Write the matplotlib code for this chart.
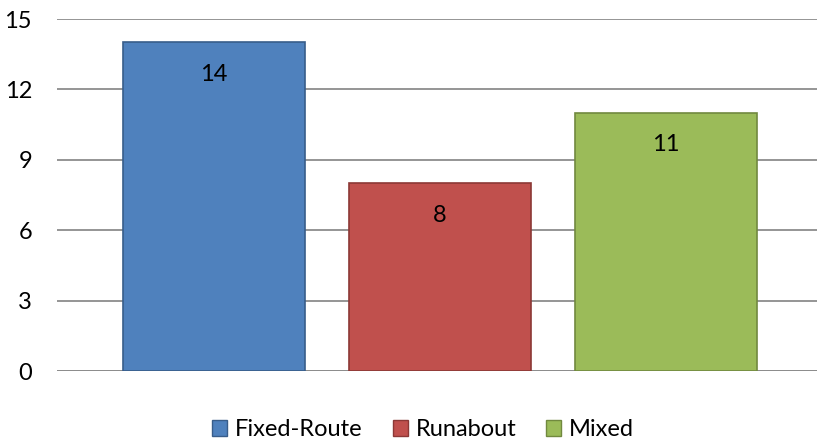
import matplotlib
matplotlib.use("Agg")
import matplotlib.pyplot as plt
from matplotlib.patches import Patch

plt.rcParams['font.family'] = ['Lato', 'DejaVu Sans']

# data
series = ["Fixed-Route", "Runabout", "Mixed"]
values = [14, 8, 11]
colors = ["#4F81BD", "#C0504D", "#9BBB59"]
edges = ["#385D8A", "#8C3836", "#71893F"]
yticks = [0, 3, 6, 9, 12, 15]

fig = plt.figure(figsize=(8.17, 4.42), dpi=100)
ax = fig.add_axes([57/817, 1-371/442, 1-57/817, (371-19)/442])

xs = range(len(values))
bars = ax.bar(xs, values, width=0.805, color=colors, edgecolor=edges, linewidth=1.2, zorder=3)
for b, v in zip(bars, values):
    ax.text(b.get_x() + b.get_width()/2, v - 1.64, str(v), ha='center', va='baseline',
            fontsize=17, color='black', zorder=4)

ax.set_ylim(0, 15)
ax.set_xlim(-0.695, 2.67)
ax.set_yticks(yticks)
ax.set_yticklabels([str(t) for t in yticks], fontsize=17)
ax.set_xticks([])
ax.tick_params(axis='y', length=0, pad=18)
ax.yaxis.grid(True, color='#8C8C8C', linewidth=1.3, zorder=0)
ax.set_axisbelow(True)
for s in ['top', 'right', 'left', 'bottom']:
    ax.spines[s].set_visible(False)
ax.axhline(0, color='#8C8C8C', linewidth=1.3, zorder=2)

handles = [Patch(facecolor=c, edgecolor=e, label=s) for s, c, e in zip(series, colors, edges)]
fig.legend(handles=handles, loc='center', bbox_to_anchor=(0.518, 1-430/442), ncol=3,
           frameon=False, fontsize=17, handlelength=0.63, handleheight=0.63,
           handletextpad=0.34, columnspacing=1.27, borderpad=0)

fig.savefig("out.png", dpi=100)
